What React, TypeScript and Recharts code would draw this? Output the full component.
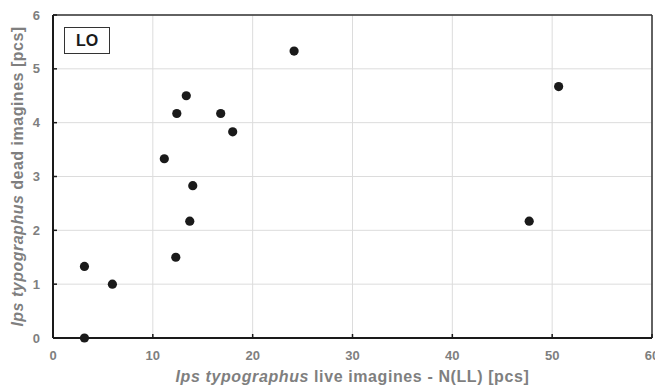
import React from 'react';
import { ScatterChart, Scatter, XAxis, YAxis, CartesianGrid, ReferenceLine, Label, Customized } from 'recharts';

const liveImagines = [3.15, 3.15, 5.95, 12.3, 13.7, 14.0, 11.15, 18.0, 12.4, 16.8, 13.35, 24.15, 47.7, 50.65];
const deadImagines = [0, 1.33, 1.0, 1.5, 2.17, 2.83, 3.33, 3.83, 4.17, 4.17, 4.5, 5.33, 2.17, 4.67];
const xTicks = [0, 10, 20, 30, 40, 50, 60];
const yTicks = [0, 1, 2, 3, 4, 5, 6];
const panelLabel = 'LO';

const data = liveImagines.map((x, i) => ({ x, y: deadImagines[i] }));

const FONT = '"Liberation Sans", Arial, sans-serif';
const GRAY = '#7f7f7f';

const Dot = (props: any) => <circle cx={props.cx} cy={props.cy} r={4.6} fill="#1a1a1a" />;

const XTitle = (props: any) => {
  const vb = props.viewBox;
  return (
    <text x={vb.x + vb.width / 2} y={vb.y + 44} textAnchor="middle" fontFamily={FONT} fontSize={16} letterSpacing={0.6} fontWeight={700} fill={GRAY}>
      <tspan fontStyle="italic" fontWeight={700}>Ips typographus</tspan>
      <tspan fontWeight={700}> live imagines - N(LL) [pcs]</tspan>
    </text>
  );
};

const YTitle = (props: any) => {
  const vb = props.viewBox;
  const cx = 23;
  const cy = vb.y + vb.height / 2;
  return (
    <text x={cx} y={cy} transform={`rotate(-90 ${cx} ${cy})`} textAnchor="middle" fontFamily={FONT} fontSize={16} letterSpacing={0.5} fontWeight={700} fill={GRAY}>
      <tspan fontStyle="italic" fontWeight={700}>Ips typographus</tspan>
      <tspan fontWeight={700}> dead imagines [pcs]</tspan>
    </text>
  );
};

const PanelBox = () => (
  <g>
    <rect x={64.5} y={27.5} width={45} height={26} fill="#fff" stroke="#333" strokeWidth={1} />
    <text x={87} y={46} textAnchor="middle" fontFamily={FONT} fontSize={16} fontWeight={700} fill="#1a1a1a">{panelLabel}</text>
  </g>
);

export default function App() {
  return (
    <div style={{ position: 'absolute', left: 0, top: 0, width: 655, height: 386, background: '#fff' }}>
      <ScatterChart width={655} height={386} margin={{ top: 15, right: 3, left: 0, bottom: 0 }}>
        <CartesianGrid stroke="#dcdcdc" strokeWidth={1} />
        <XAxis
          type="number"
          dataKey="x"
          domain={[0, 60]}
          ticks={xTicks}
          interval={0}
          height={48}
          tickSize={-4}
          tickMargin={17}
          axisLine={{ stroke: '#1a1a1a', strokeWidth: 2 }}
          tickLine={{ stroke: '#1a1a1a', strokeWidth: 1.5 }}
          tick={{ fill: GRAY, fontSize: 13, fontWeight: 700, fontFamily: FONT }}
        >
          <Label content={XTitle} />
        </XAxis>
        <YAxis
          type="number"
          dataKey="y"
          domain={[0, 6]}
          ticks={yTicks}
          interval={0}
          width={53}
          tickSize={-4}
          tickMargin={17}
          axisLine={{ stroke: '#1a1a1a', strokeWidth: 2 }}
          tickLine={{ stroke: '#1a1a1a', strokeWidth: 1.5 }}
          tick={{ fill: GRAY, fontSize: 13, fontWeight: 700, fontFamily: FONT }}
        >
          <Label content={YTitle} />
        </YAxis>
        <ReferenceLine y={6} stroke="#333" strokeWidth={1.5} />
        <ReferenceLine x={60} stroke="#333" strokeWidth={1.5} />
        <Scatter data={data} shape={Dot} isAnimationActive={false} />
        <Customized component={PanelBox} />
      </ScatterChart>
    </div>
  );
}
